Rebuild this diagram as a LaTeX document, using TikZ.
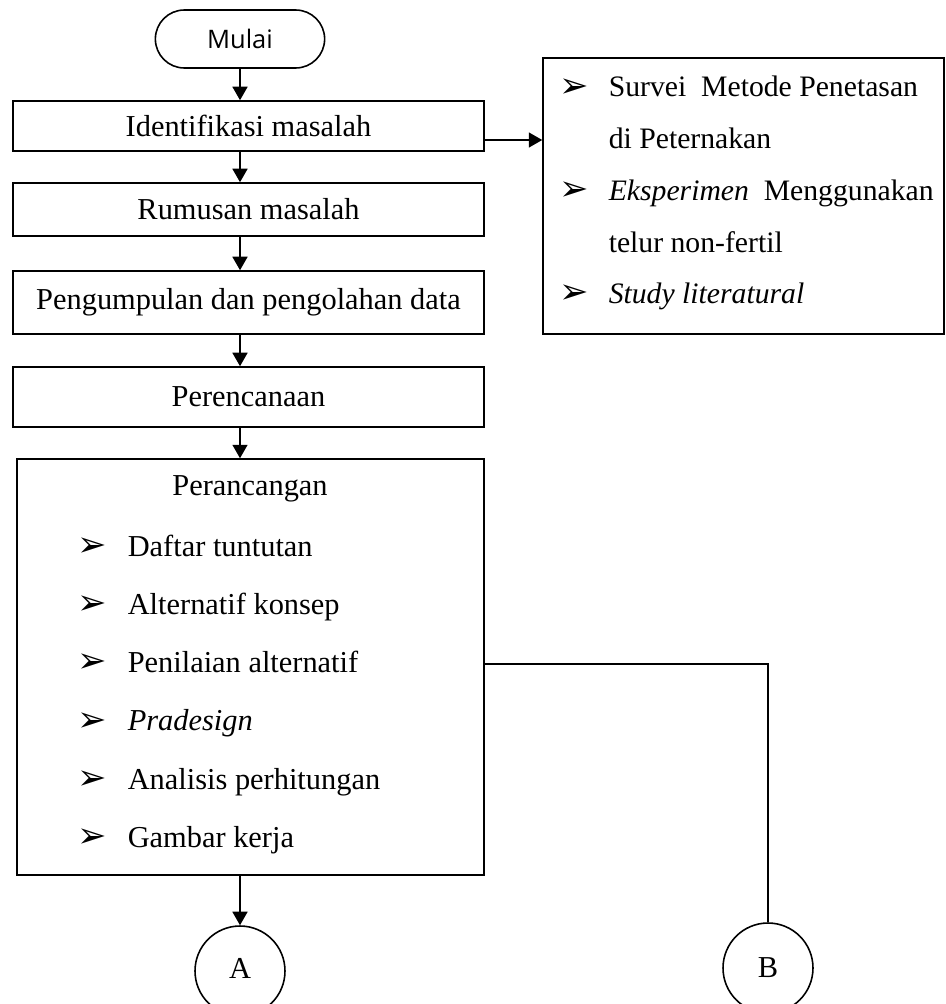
\documentclass[tikz,border=0pt]{standalone}
\usepackage{fontspec}
\setmainfont{Liberation Serif}
\newfontfamily\mulaifont{Open Sans}
\newfontfamily\bulletfont{DejaVu Sans}
\usetikzlibrary{shapes.misc,arrows.meta}
\begin{document}
\begin{tikzpicture}[
			x=0.02cm, y=-0.02cm,
			line width=0.9pt,
			font=\fontsize{17.3}{20}\selectfont,
			box/.style = {draw, minimum width=9.42cm, inner sep=0pt},
			item/.style = {anchor=west, inner sep=0pt, text height=0.5cm, text depth=0.14cm},
			bul/.style = {inner sep=0pt, font=\bulletfont\fontsize{20}{20}\selectfont},
			conn/.style = {draw, circle, minimum size=1.8cm, inner sep=0pt},
			arr/.style = {-{Triangle[length=0.27cm,width=0.3cm]}},
			]
			\useasboundingbox (0,0) rectangle (946,1004);
			\node[draw, rounded rectangle, minimum width=3.62cm, minimum height=1.16cm,
				font=\mulaifont\fontsize{14.5}{16}\selectfont] (mulai) at (240,39) {Mulai};
			\node[box, minimum height=1cm] (ident) at (248.5,126) {Identifikasi masalah};
			\node[box, minimum height=1.06cm] (rumus) at (248.5,209.5) {Rumusan masalah};
			\node[box, minimum height=1.26cm] (kumpul) at (248.5,302.5) {Pengumpulan dan pengolahan data};
			\node[box, minimum height=1.2cm] (rencana) at (248.5,397) {Perencanaan};
			\node[box, minimum width=9.34cm, minimum height=8.32cm] (rancang) at (250.5,667) {};
			\node[inner sep=0pt] (rtitle) at (250,489) {Perancangan};
			\foreach \t [count=\i] in {Daftar tuntutan, Alternatif konsep, Penilaian alternatif,
				\textit{Pradesign}, Analisis perhitungan, Gambar kerja} {
				\node[bul] (rb\i) at (92,489+58.2*\i) {➢};
				\node[item] (ri\i) at (127,489+58.2*\i) {\t};
			}
			\node[draw, minimum width=8.02cm, minimum height=5.52cm, inner sep=0pt] (survei) at (743.5,196) {};
			\begin{scope}[font=\fontsize{16.9}{20}\selectfont]
				\node[bul] (sb1) at (574,88) {➢};
				\node[item] (s1) at (608,88) {Survei\ \ Metode Penetasan};
				\node[item] (s2) at (608,140) {di Peternakan};
				\node[bul] (sb3) at (574,191) {➢};
				\node[item] (s3) at (608,191) {\textit{Eksperimen}\ \ Menggunakan};
				\node[item] (s4) at (608,243) {telur non-fertil};
				\node[bul] (sb5) at (574,294) {➢};
				\node[item] (s5) at (608,294) {\textit{Study literatural}};
			\end{scope}
			\node[conn] (conA) at (240,971) {\raisebox{0.12cm}{A}};
			\node[conn] (conB) at (768,968) {B};
			\draw[arr] (mulai) -- (mulai |- ident.north);
			\foreach \a/\b in {ident/rumus, rumus/kumpul, kumpul/rencana, rencana/rancang}
				\draw[arr] (\a.south -| mulai) -- (\b.north -| mulai);
			\draw[arr] ([yshift=-0.28cm]ident.east) -- ([yshift=-0.28cm]ident.east -| survei.west);
			\draw[arr] (rancang.south -| conA) -- (conA);
			\draw ([yshift=0.06cm]rancang.east) -| (conB);
		\end{tikzpicture}
\end{document}
